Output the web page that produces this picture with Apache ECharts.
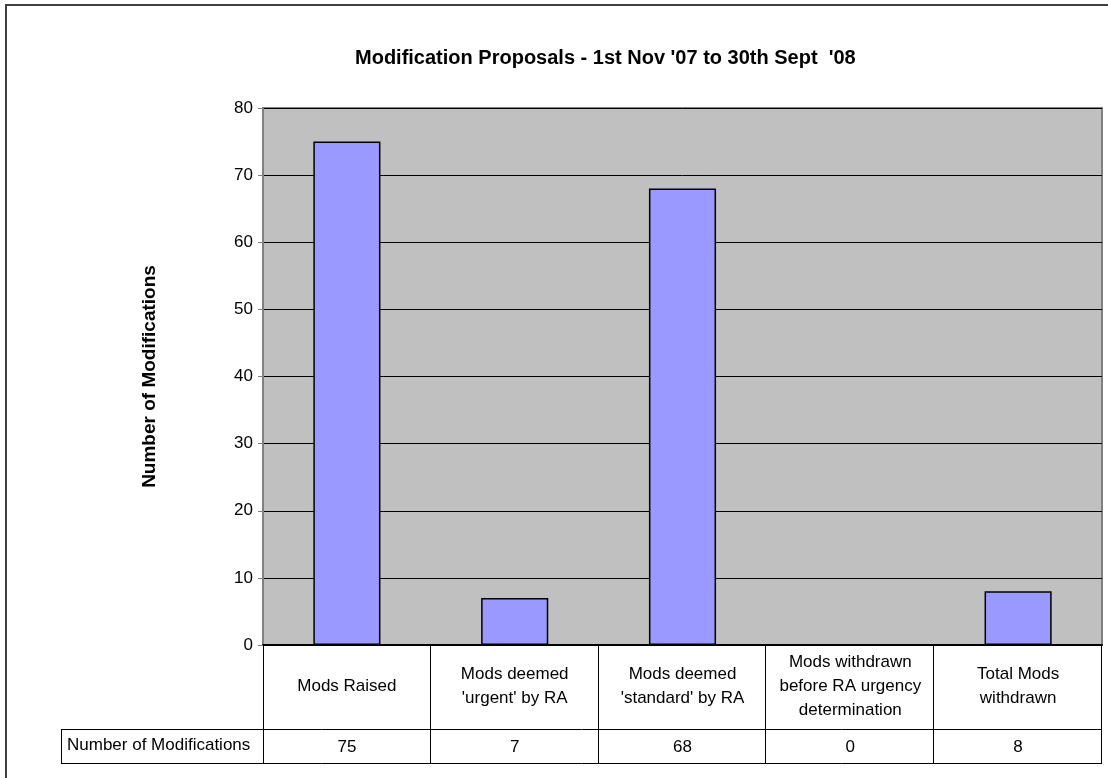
<!DOCTYPE html>
<html>
<head>
<meta charset="utf-8">
<script src="https://cdn.jsdelivr.net/npm/echarts@6/dist/echarts.min.js"></script>
<style>
  html, body { margin: 0; padding: 0; background: #fff; }
  #chart { width: 1108px; height: 778px; }
</style>
</head>
<body>
<div id="chart"></div>
<script>
const categories = [
  'Mods Raised',
  "Mods deemed\n'urgent' by RA",
  "Mods deemed\n'standard' by RA",
  'Mods withdrawn\nbefore RA urgency\ndetermination',
  'Total Mods\nwithdrawn'
];
const values = [75, 7, 68, 0, 8];
const yTicks = [0, 10, 20, 30, 40, 50, 60, 70, 80];
const seriesName = 'Number of Modifications';

const W = 1108, H = 778;
const gridLeft = 263, gridRight = 1102, gridTop = 108, gridBottom = 645;
const headBottom = 729, tableBottom = 763, rowLabelLeft = 61;
const font = 'Liberation Sans, Arial, sans-serif';

let chart = echarts.init(document.getElementById('chart'));

// table lines
const colW = (gridRight - gridLeft) / categories.length;
const lines = [];
function hline(x1, x2, y) {
  lines.push({ type: 'line', shape: { x1: x1, y1: y, x2: x2, y2: y }, style: { stroke: '#000', lineWidth: 1 } });
}
function vline(x, y1, y2) {
  lines.push({ type: 'line', shape: { x1: x, y1: y1, x2: x, y2: y2 }, style: { stroke: '#000', lineWidth: 1 } });
}
hline(rowLabelLeft, gridRight, headBottom + 0.5);
hline(rowLabelLeft, gridRight, tableBottom + 0.5);
vline(rowLabelLeft + 0.5, headBottom, tableBottom);
for (let i = 1; i <= categories.length; i++) {
  vline(Math.round(gridLeft + i * colW) - 0.5, gridBottom, tableBottom);
}
vline(gridLeft + 0.5, gridBottom, tableBottom);

const option = {
  animation: false,
  backgroundColor: '#fff',
  title: {
    text: "Modification Proposals - 1st Nov '07 to 30th Sept  '08",
    left: 350,
    top: 43,
    textStyle: { fontFamily: font, fontSize: 20, fontWeight: 'bold', color: '#000' }
  },
  grid: {
    left: gridLeft,
    right: W - gridRight,
    top: gridTop,
    bottom: H - gridBottom,
    show: true,
    backgroundColor: '#C0C0C0',
    borderColor: '#808080',
    borderWidth: 2
  },
  xAxis: [
    {
      type: 'category',
      data: categories,
      axisLine: { lineStyle: { color: '#000', width: 2 } },
      axisTick: { show: false },
      axisLabel: {
        interval: 0,
        margin: 41,
        verticalAlign: 'middle',
        lineHeight: 24,
        fontFamily: font,
        fontSize: 17,
        color: '#000'
      }
    },
    {
      type: 'category',
      position: 'bottom',
      data: values.map(String),
      axisLine: { show: false },
      axisTick: { show: false },
      axisLabel: {
        interval: 0,
        margin: 102,
        verticalAlign: 'middle',
        fontFamily: font,
        fontSize: 17,
        color: '#000'
      }
    }
  ],
  yAxis: {
    type: 'value',
    min: yTicks[0],
    max: yTicks[yTicks.length - 1],
    interval: 10,
    name: seriesName,
    nameLocation: 'middle',
    nameGap: 104,
    nameTextStyle: { fontFamily: font, fontSize: 19, fontWeight: 'bold', color: '#000' },
    axisLine: { show: true, lineStyle: { color: '#808080', width: 2 } },
    axisTick: { show: true, length: 5, lineStyle: { color: '#808080' } },
    axisLabel: { margin: 10, fontFamily: font, fontSize: 17, color: '#000' },
    splitLine: { lineStyle: { color: '#000', width: 1 } }
  },
  series: [
    {
      name: seriesName,
      type: 'bar',
      data: values,
      barWidth: '40%',
      itemStyle: { color: '#9999FF', borderColor: '#000', borderWidth: 1.5 }
    }
  ],
  graphic: [
    {
      type: 'rect',
      shape: { x: 6, y: 5, width: W + 20, height: H + 20 },
      style: { fill: 'none', stroke: '#404040', lineWidth: 2 },
      silent: true
    },
    {
      type: 'text',
      left: rowLabelLeft + 6,
      top: headBottom + 8,
      style: { text: seriesName, fontFamily: font, fontSize: 17, fill: '#000' }
    }
  ].concat(lines)
};
chart.setOption(option);
</script>
</body>
</html>
